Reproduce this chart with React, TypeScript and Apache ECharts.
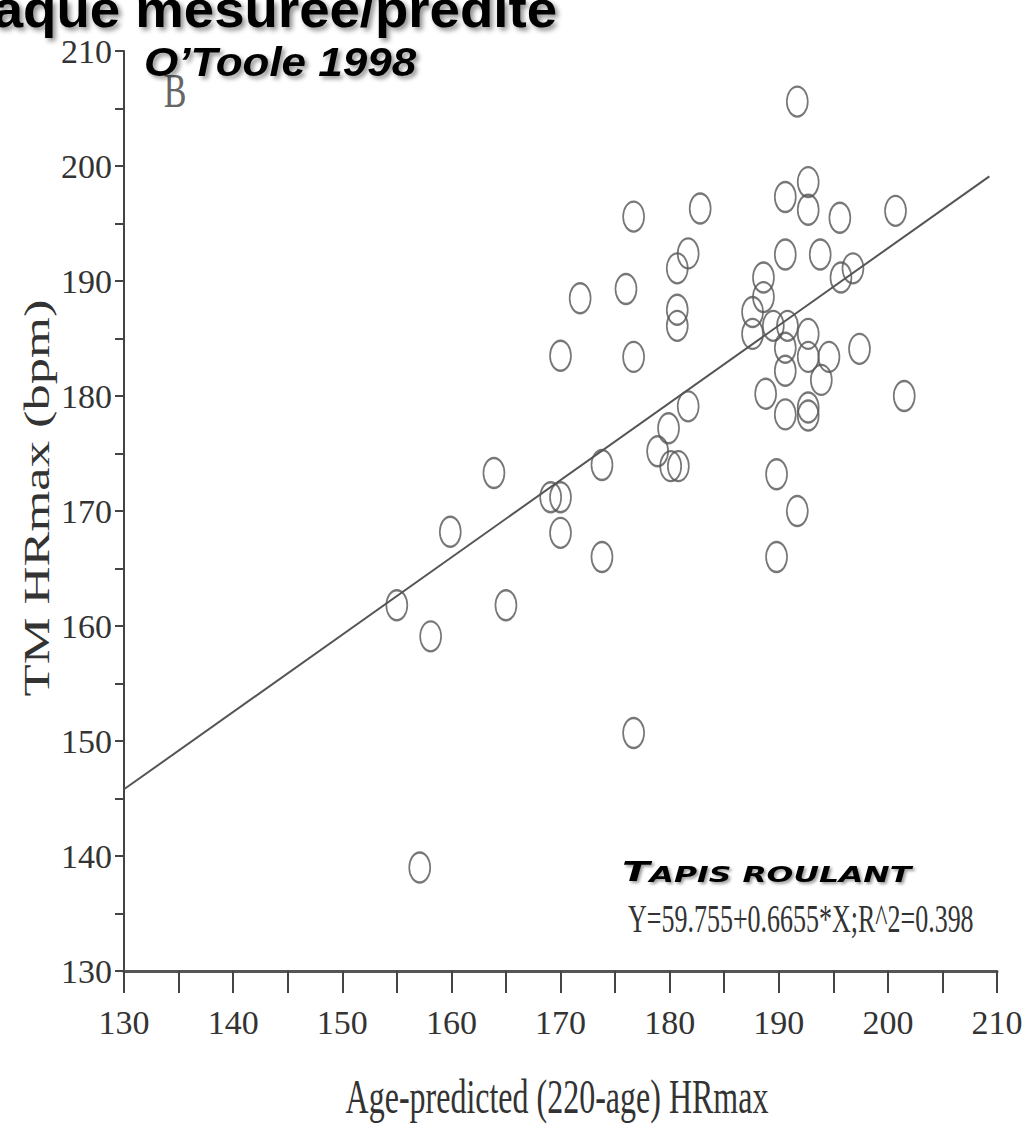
import React, { useEffect, useRef } from "react";
import * as echarts from "echarts";

// Age-predicted (220-age) HRmax (x) and treadmill measured HRmax (y)
const predictedHR: number[] = [
  155.0, 158.1, 157.1, 159.9, 163.9, 165.0, 169.1, 170.0, 170.0, 170.0,
  171.8, 173.8, 173.8, 176.0, 176.7, 176.7, 176.7, 178.9, 179.9, 180.1,
  180.8, 180.7, 180.7, 180.7, 181.7, 181.7, 182.8, 187.6, 187.6, 188.6,
  188.6, 188.8, 189.5, 190.8, 189.8, 189.8, 190.6, 190.6, 190.6, 190.6,
  190.6, 191.7, 191.7, 192.7, 192.7, 192.7, 192.7, 192.7, 192.7, 193.8,
  193.9, 194.6, 195.6, 195.7, 196.8, 197.4, 200.7, 201.5,
];
const measuredHR: number[] = [
  161.8, 159.1, 139.0, 168.2, 173.3, 161.8, 171.2, 171.2, 168.1, 183.5,
  188.5, 174.0, 166.0, 189.3, 195.6, 183.4, 150.7, 175.2, 177.2, 173.9,
  173.9, 186.1, 187.5, 191.1, 192.4, 179.1, 196.3, 187.3, 185.4, 188.6,
  190.3, 180.2, 186.1, 186.1, 173.2, 166.0, 197.3, 192.3, 184.2, 182.2,
  178.4, 170.0, 205.6, 198.6, 196.2, 185.4, 183.4, 179.0, 178.3, 192.3,
  181.4, 183.4, 195.5, 190.3, 191.1, 184.1, 196.1, 180.0,
];
// Regression line end points as drawn
const fitLineX: number[] = [130, 209.3];
const fitLineY: number[] = [145.8, 199.1];

const axisMin = 130;
const axisMax = 210;
const axisStep = 10;

const titleText = "Fréquence cardiaque mesurée/prédite";
const studyText = "O\u2019Toole 1998";
const panelText = "B";
const modeText = "Tapis roulant";
const equationText = "Y=59.755+0.6655*X;R^2=0.398";
const xName = "Age-predicted (220-age) HRmax";
const yName = "TM HRmax (bpm)";

const serif = "'Liberation Serif', 'Times New Roman', serif";
const sans = "'Liberation Sans', Arial, sans-serif";
const ink = "#333";
const ellipsePath = "path://M10,0 A10,10 0 1,1 10,20 A10,10 0 1,1 10,0 Z";

export default function App() {
  const ref = useRef<HTMLDivElement>(null);
  useEffect(() => {
    if (!ref.current) return;
    const chart = echarts.init(ref.current, undefined, { renderer: "svg" });
    const points = predictedHR.map((x, i) => [x, measuredHR[i]]);
    const line = fitLineX.map((x, i) => [x, fitLineY[i]]);
    const upper = modeText.toUpperCase();
    chart.setOption({
      animation: false,
      backgroundColor: "#fff",
      grid: { left: 124, right: 35, top: 51, bottom: 156, containLabel: false },
      xAxis: {
        type: "value",
        min: axisMin,
        max: axisMax,
        interval: axisStep,
        axisLine: { show: true, onZero: false, lineStyle: { color: "#555", width: 3 } },
        axisTick: { show: true, length: 22, lineStyle: { color: "#444", width: 2 } },
        minorTick: { show: true, splitNumber: 2, length: 22, lineStyle: { color: "#444", width: 2 } },
        splitLine: { show: false },
        axisLabel: { fontFamily: serif, fontSize: 34, color: ink, margin: 34 },
      },
      yAxis: {
        type: "value",
        min: axisMin,
        max: axisMax,
        interval: axisStep,
        axisLine: { show: true, onZero: false, lineStyle: { color: "#444", width: 2 } },
        axisTick: { show: true, length: 9, lineStyle: { color: "#444", width: 2 } },
        minorTick: { show: true, splitNumber: 2, length: 9, lineStyle: { color: "#444", width: 2 } },
        splitLine: { show: false },
        axisLabel: { fontFamily: serif, fontSize: 34, color: ink, margin: 12 },
      },
      series: [
        {
          type: "scatter",
          data: points,
          symbol: ellipsePath,
          symbolSize: [21, 30],
          itemStyle: { color: "rgba(0,0,0,0)", borderColor: "#555", borderWidth: 2 },
          z: 3,
        },
        {
          type: "line",
          data: line,
          symbol: "none",
          lineStyle: { color: "#555", width: 2 },
          z: 2,
        },
      ],
      graphic: [
        {
          type: "text",
          x: 557,
          y: 9,
          z: 10,
          scaleX: 1.05,
          style: {
            text: titleText,
            font: `bold 52px ${sans}`,
            fill: "#000",
            textAlign: "right",
            textVerticalAlign: "middle",
            textShadowColor: "rgba(0,0,0,0.45)",
            textShadowBlur: 5,
            textShadowOffsetX: 3,
            textShadowOffsetY: 3,
          },
        },
        {
          type: "text",
          x: 175,
          y: 91,
          z: 5,
          scaleY: 1.4,
          style: {
            text: panelText,
            font: `34px ${serif}`,
            fill: "#666",
            textAlign: "center",
            textVerticalAlign: "middle",
          },
        },
        {
          type: "text",
          x: 144,
          y: 62,
          z: 10,
          scaleX: 1.1,
          style: {
            text: studyText,
            font: `italic bold 40px ${sans}`,
            fill: "#000",
            textAlign: "left",
            textVerticalAlign: "middle",
            textShadowColor: "rgba(0,0,0,0.4)",
            textShadowBlur: 4,
            textShadowOffsetX: 3,
            textShadowOffsetY: 3,
          },
        },
        {
          type: "text",
          x: 622,
          y: 872,
          z: 10,
          scaleX: 1.5,
          style: {
            text: `{a|${upper.charAt(0)}}{b|${upper.slice(1)}}`,
            textAlign: "left",
            textVerticalAlign: "middle",
            rich: {
              a: { font: `italic bold 27px 'DejaVu Sans', ${sans}`, fill: "#000", verticalAlign: "bottom" },
              b: { font: `italic bold 21px 'DejaVu Sans', ${sans}`, fill: "#000", verticalAlign: "bottom" },
            },
            textShadowColor: "rgba(0,0,0,0.4)",
            textShadowBlur: 3,
            textShadowOffsetX: 2,
            textShadowOffsetY: 2,
          },
        },
        {
          type: "text",
          x: 628,
          y: 918,
          z: 10,
          scaleY: 1.5,
          style: {
            text: equationText,
            font: `26px ${serif}`,
            fill: ink,
            textAlign: "left",
            textVerticalAlign: "middle",
          },
        },
        {
          type: "text",
          x: 557,
          y: 1097,
          z: 10,
          scaleY: 1.5,
          style: {
            text: xName,
            font: `32px ${serif}`,
            fill: ink,
            textAlign: "center",
            textVerticalAlign: "middle",
          },
        },
        {
          type: "text",
          x: 37,
          y: 498,
          z: 10,
          rotation: Math.PI / 2,
          scaleX: 1.46,
          style: {
            text: yName,
            font: `36px ${serif}`,
            fill: ink,
            textAlign: "center",
            textVerticalAlign: "middle",
          },
        },
      ],
    });
    return () => chart.dispose();
  }, []);
  return (
    <div
      ref={ref}
      style={{ position: "absolute", left: 0, top: 0, width: 1032, height: 1127 }}
    />
  );
}
